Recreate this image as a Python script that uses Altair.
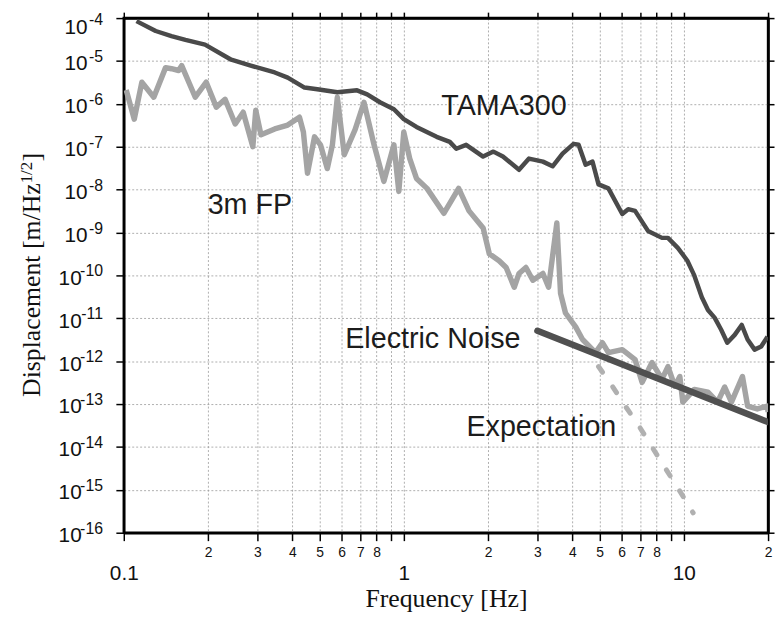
import altair as alt
import pandas as pd

# ---- data ----
tama_freq = [0.111, 0.130, 0.148, 0.166, 0.195, 0.242, 0.284, 0.346, 0.385, 0.442,
             0.491, 0.579, 0.681, 0.740, 0.822, 0.922, 1.00, 1.11, 1.31, 1.46,
             1.54, 1.67, 1.92, 2.09, 2.26, 2.58, 2.80, 3.14, 3.40, 3.69,
             4.04, 4.21, 4.46, 4.72, 4.96, 5.38, 6.03, 6.33, 6.70, 7.45,
             8.36, 8.78, 9.52, 10.3, 10.9, 11.6, 12.2, 12.9, 13.6, 14.3,
             15.2, 16.1, 16.9, 17.9, 18.9, 19.9]
tama_disp = [8.5e-5, 5.0e-5, 3.8e-5, 3.1e-5, 2.4e-5, 1.07e-5, 7.8e-6, 5.4e-6, 4.1e-6, 2.4e-6,
             2.2e-6, 1.86e-6, 2.07e-6, 1.67e-6, 1.09e-6, 7.5e-7, 4.4e-7, 2.9e-7, 1.7e-7, 1.3e-7,
             9.0e-8, 1.11e-7, 5.9e-8, 7.7e-8, 5.9e-8, 2.9e-8, 5.3e-8, 4.5e-8, 3.5e-8, 6.9e-8,
             1.17e-7, 1.11e-7, 3.8e-8, 4.5e-8, 1.33e-8, 1.07e-8, 2.7e-9, 3.5e-9, 3.2e-9, 1.09e-9,
             7.5e-10, 7.5e-10, 4.4e-10, 2.2e-10, 1.0e-10, 3.1e-11, 1.56e-11, 1.02e-11, 5.4e-12, 2.7e-12,
             4.1e-12, 7.0e-12, 3.2e-12, 1.86e-12, 2.2e-12, 3.7e-12]

fp_freq = [0.102, 0.109, 0.116, 0.128, 0.141, 0.148, 0.157, 0.161, 0.180, 0.197,
           0.214, 0.230, 0.250, 0.267, 0.289, 0.296, 0.309, 0.346, 0.385, 0.424,
           0.438, 0.453, 0.480, 0.504, 0.533, 0.556, 0.579, 0.613, 0.670, 0.721,
           0.783, 0.849, 0.922, 0.960, 1.00, 1.05, 1.11, 1.21, 1.39, 1.57,
           1.71, 1.92, 2.02, 2.19, 2.32, 2.48, 2.58, 2.73, 2.89, 3.14,
           3.29, 3.52, 3.63, 3.78, 4.11, 4.35, 4.84, 5.12, 5.38, 6.03,
           6.70, 7.10, 7.70, 8.36, 8.78, 9.29, 9.68, 9.92, 10.9, 12.2,
           13.2, 14.0, 14.8, 16.2, 16.9, 18.3, 19.9, 20.0]
fp_disp = [2.1e-6, 4.4e-7, 3.2e-6, 1.43e-6, 7.0e-6, 6.6e-6, 6.0e-6, 7.8e-6, 1.43e-6, 3.2e-6,
           8.4e-7, 1.28e-6, 3.4e-7, 6.4e-7, 1.0e-7, 7.1e-7, 1.9e-7, 2.6e-7, 3.2e-7, 4.9e-7,
           2.2e-7, 2.4e-8, 1.7e-7, 1.11e-7, 3.1e-8, 1.11e-7, 1.43e-6, 6.5e-8, 2.5e-7, 1.09e-6,
           1.11e-7, 1.56e-8, 1.11e-7, 9.1e-9, 2.2e-7, 5.3e-8, 1.82e-8, 1.07e-8, 2.8e-9, 1.07e-8,
           3.2e-9, 1.28e-9, 3.2e-10, 2.2e-10, 1.53e-10, 5.3e-11, 1.11e-10, 1.53e-10, 7.7e-11, 1.11e-10,
           5.3e-11, 1.67e-9, 3.8e-11, 1.33e-11, 6.3e-12, 3.2e-12, 1.58e-12, 2.7e-12, 1.58e-12, 1.86e-12,
           1.09e-12, 3.2e-13, 9.3e-13, 3.8e-13, 7.5e-13, 2.6e-13, 4.4e-13, 1.11e-13, 2.2e-13, 1.89e-13,
           1.11e-13, 2.5e-13, 1.11e-13, 4.4e-13, 9.0e-14, 7.7e-14, 9.0e-14, 6.5e-14]

noise_freq = [3.0, 20.0]
noise_disp = [5.1e-12, 3.8e-14]

expect_freq = [4.96, 5.56, 6.18, 6.98, 7.77, 8.70, 9.68, 10.8]
expect_disp = [7.5e-13, 2.6e-13, 9.0e-14, 2.8e-14, 9.1e-15, 2.8e-15, 9.3e-16, 2.9e-16]

label_text = ["TAMA300", "3m FP", "Electric Noise", "Expectation"]
label_freq = [2.28, 0.282, 1.27, 3.10]
label_disp = [5.5e-7, 2.7e-9, 2.07e-12, 1.82e-14]

x_ticks = [0.1, 0.2, 0.3, 0.4, 0.5, 0.6, 0.7, 0.8, 0.9,
           1, 2, 3, 4, 5, 6, 7, 8, 9, 10, 20]
y_exponents = [-4, -5, -6, -7, -8, -9, -10, -11, -12, -13, -14, -15, -16]
y_ticks = [1e-4, 1e-5, 1e-6, 1e-7, 1e-8, 1e-9, 1e-10, 1e-11, 1e-12, 1e-13, 1e-14, 1e-15, 1e-16]

# ---- tables ----
tama = pd.DataFrame({"f": tama_freq, "v": tama_disp})
fp = pd.DataFrame({"f": fp_freq, "v": fp_disp})
noise = pd.DataFrame({"f": noise_freq, "v": noise_disp})
expect = pd.DataFrame({"f": expect_freq, "v": expect_disp})
labels = pd.DataFrame({"f": label_freq, "v": label_disp, "t": label_text})
exps = pd.DataFrame({"v": y_ticks, "t": [str(e) for e in y_exponents]})

xs = alt.Scale(type="log", domain=[0.1, 20], nice=False)
ys = alt.Scale(type="log", domain=[1e-16, 1e-4], nice=False)

major = "datum.value == 0.1 || datum.value == 1 || datum.value == 10"
x_label_expr = ("datum.value == 0.1 ? '0.1' : datum.value == 1 ? '1' : datum.value == 10 ? '10' : "
                "(datum.value == 0.9 || datum.value == 9) ? '' : "
                "format(datum.value < 1 ? datum.value * 10 : (datum.value < 10 ? datum.value : datum.value / 10), '.0f')")

x_axis = alt.Axis(
    values=x_ticks, labelExpr=x_label_expr, labelOverlap=False, labelFlush=False,
    labelFont="Liberation Sans", labelColor="#111", labelBaseline="top",
    labelFontSize={"condition": {"test": major, "value": 21}, "value": 14},
    labelPadding={"condition": {"test": major, "value": 22}, "value": 5},
    tickSize=8, tickColor="black", tickWidth=1.5,
    domainColor="black", domainWidth=2.5,
    grid=True, gridColor="#9a9a9a", gridDash=[2, 2], gridWidth=0.8,
    title="Frequency [Hz]", titleFont="Liberation Serif", titleFontSize=26,
    titleFontWeight="normal", titleColor="#111", titleBaseline="alphabetic", titleY=75,
)
y_axis = alt.Axis(
    values=y_ticks, labelExpr="'10'", labelOverlap=False, labelFlush=False,
    labelFont="Liberation Sans", labelColor="#111", labelFontSize=21,
    labelBaseline="middle",
    labelOffset={"condition": {"test": "datum.value > 5e-5", "value": 10}, "value": 3},
    labelPadding={"condition": {"test": "datum.value < 5e-10", "value": 35}, "value": 29},
    tickSize=8, tickColor="black", tickWidth=1.5,
    domainColor="black", domainWidth=2.5,
    grid=True, gridColor="#9a9a9a", gridDash=[2, 2], gridWidth=0.8,
    title=None,
)

def xe(axis=None):
    return alt.X("f:Q", scale=xs, axis=axis)

def ye(axis=None):
    return alt.Y("v:Q", scale=ys, axis=axis)

expect_layer = alt.Chart(expect).mark_line(
    color="#b0b0b0", strokeWidth=5, strokeDash=[7, 18], strokeCap="round", clip=True
).encode(x=xe(x_axis), y=ye(y_axis))

fp_layer = alt.Chart(fp).mark_line(
    color="#a4a4a4", strokeWidth=5.5, strokeJoin="round", clip=True
).encode(x=xe(), y=ye())

tama_layer = alt.Chart(tama).mark_line(
    color="#4a4a4a", strokeWidth=4.5, strokeJoin="round", clip=True
).encode(x=xe(), y=ye())

noise_layer = alt.Chart(noise).mark_line(
    color="#505050", strokeWidth=6.5, strokeCap="round", clip=True
).encode(x=xe(), y=ye())

text_layer = alt.Chart(labels).mark_text(
    font="Liberation Sans", fontSize=29, color="#1c1c1c", align="center", baseline="alphabetic"
).encode(x=xe(), y=ye(), text="t:N")

exp_layer = alt.Chart(exps).transform_filter("datum.v < 5e-5").mark_text(
    font="Liberation Sans", fontSize=16, color="#111", align="right", baseline="middle", dy=-4
).encode(x=alt.value(-21), y=ye(), text="t:N")

exp_top_layer = alt.Chart(exps).transform_filter("datum.v > 5e-5").mark_text(
    font="Liberation Sans", fontSize=16, color="#111", align="right", baseline="middle", dy=2
).encode(x=alt.value(-21), y=ye(), text="t:N")

frame_layer = alt.Chart(noise).mark_point(opacity=0).encode(
    x=xe(alt.Axis(orient="top", values=x_ticks, labels=False, tickSize=6, tickColor="black",
                  tickWidth=1.5, grid=False, domainColor="black", domainWidth=2.5, title=None)),
    y=ye(alt.Axis(orient="right", values=y_ticks, labels=False, tickSize=6, tickColor="black",
                  tickWidth=1.5, grid=False, domainColor="black", domainWidth=2.5, title=None)),
)

one = pd.DataFrame({"a": [0]})
ytitle_main = alt.Chart(one).mark_text(
    text="Displacement [m/Hz", font="Liberation Serif", fontSize=26, color="#111",
    angle=270, align="right", baseline="alphabetic"
).encode(x=alt.value(-85), y=alt.value(167))
ytitle_sup = alt.Chart(one).mark_text(
    text="1/2", font="Liberation Serif", fontSize=17, color="#111",
    angle=270, align="left", baseline="alphabetic"
).encode(x=alt.value(-93), y=alt.value(167))
ytitle_end = alt.Chart(one).mark_text(
    text="]", font="Liberation Serif", fontSize=26, color="#111",
    angle=270, align="left", baseline="alphabetic"
).encode(x=alt.value(-85), y=alt.value(145))

chart = alt.layer(
    expect_layer, fp_layer, tama_layer, noise_layer, text_layer, exp_layer, exp_top_layer,
    frame_layer, ytitle_main, ytitle_sup, ytitle_end
).resolve_axis(x="independent", y="independent").properties(
    width=651, height=520,
    padding={"left": 117, "top": 7, "right": 7, "bottom": 86},
    autosize=alt.AutoSizeParams(type="none"),
    background="white",
).configure_view(stroke="black", strokeWidth=2.5)

chart.save("out.html", embed_options={"renderer": "svg", "actions": False})
